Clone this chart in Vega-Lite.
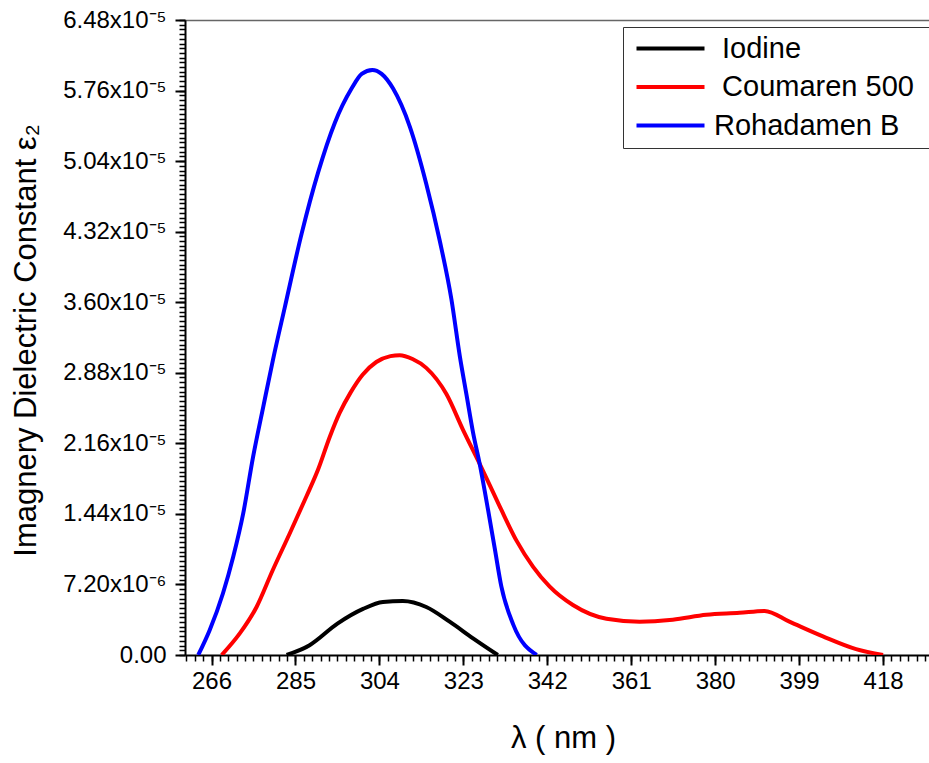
{
  "$schema": "https://vega.github.io/schema/vega-lite/v6.json",
  "autosize": {"type": "none"},
  "padding": {"left": 185, "top": 20, "right": 0, "bottom": 108},
  "width": 744,
  "height": 635,
  "background": "white",
  "config": {
    "view": {"stroke": null},
    "font": "Liberation Sans",
    "axis": {"grid": false, "labelColor": "black", "titleColor": "black", "domainColor": "black", "tickColor": "black", "labelFont": "Liberation Sans", "titleFont": "Liberation Sans", "titleFontWeight": "normal"}
  },
  "data": {"values": [
    {"s": "Iodine", "x": 283.0, "y": 0},
    {"s": "Iodine", "x": 288.2, "y": 1.0e-6},
    {"s": "Iodine", "x": 294.5, "y": 3.2e-6},
    {"s": "Iodine", "x": 300.3, "y": 4.7e-6},
    {"s": "Iodine", "x": 304.8, "y": 5.4e-6},
    {"s": "Iodine", "x": 309.3, "y": 5.5e-6},
    {"s": "Iodine", "x": 314.6, "y": 4.9e-6},
    {"s": "Iodine", "x": 319.9, "y": 3.4e-6},
    {"s": "Iodine", "x": 325.2, "y": 1.7e-6},
    {"s": "Iodine", "x": 330.8, "y": 0},
    {"s": "Coumaren 500", "x": 268.3, "y": 0},
    {"s": "Coumaren 500", "x": 272.4, "y": 2.2e-6},
    {"s": "Coumaren 500", "x": 276.2, "y": 4.9e-6},
    {"s": "Coumaren 500", "x": 279.9, "y": 8.7e-6},
    {"s": "Coumaren 500", "x": 283.7, "y": 1.24e-5},
    {"s": "Coumaren 500", "x": 287.5, "y": 1.62e-5},
    {"s": "Coumaren 500", "x": 290.1, "y": 1.89e-5},
    {"s": "Coumaren 500", "x": 292.8, "y": 2.23e-5},
    {"s": "Coumaren 500", "x": 295.0, "y": 2.47e-5},
    {"s": "Coumaren 500", "x": 297.5, "y": 2.68e-5},
    {"s": "Coumaren 500", "x": 300.2, "y": 2.86e-5},
    {"s": "Coumaren 500", "x": 303.3, "y": 2.99e-5},
    {"s": "Coumaren 500", "x": 306.5, "y": 3.05e-5},
    {"s": "Coumaren 500", "x": 308.6, "y": 3.06e-5},
    {"s": "Coumaren 500", "x": 311.5, "y": 3.02e-5},
    {"s": "Coumaren 500", "x": 314.6, "y": 2.93e-5},
    {"s": "Coumaren 500", "x": 319.2, "y": 2.66e-5},
    {"s": "Coumaren 500", "x": 322.9, "y": 2.30e-5},
    {"s": "Coumaren 500", "x": 326.7, "y": 1.95e-5},
    {"s": "Coumaren 500", "x": 331.2, "y": 1.52e-5},
    {"s": "Coumaren 500", "x": 335.0, "y": 1.17e-5},
    {"s": "Coumaren 500", "x": 338.8, "y": 9.0e-6},
    {"s": "Coumaren 500", "x": 342.5, "y": 7.0e-6},
    {"s": "Coumaren 500", "x": 347.8, "y": 5.1e-6},
    {"s": "Coumaren 500", "x": 355.4, "y": 3.7e-6},
    {"s": "Coumaren 500", "x": 362.9, "y": 3.4e-6},
    {"s": "Coumaren 500", "x": 370.4, "y": 3.6e-6},
    {"s": "Coumaren 500", "x": 378.0, "y": 4.1e-6},
    {"s": "Coumaren 500", "x": 385.5, "y": 4.3e-6},
    {"s": "Coumaren 500", "x": 391.2, "y": 4.5e-6},
    {"s": "Coumaren 500", "x": 396.8, "y": 3.4e-6},
    {"s": "Coumaren 500", "x": 404.4, "y": 1.9e-6},
    {"s": "Coumaren 500", "x": 411.9, "y": 6.0e-7},
    {"s": "Coumaren 500", "x": 418.0, "y": 0},
    {"s": "Rohadamen B", "x": 263.0, "y": 0},
    {"s": "Rohadamen B", "x": 265.6, "y": 2.55e-6},
    {"s": "Rohadamen B", "x": 268.6, "y": 6.3e-6},
    {"s": "Rohadamen B", "x": 270.9, "y": 1.0e-5},
    {"s": "Rohadamen B", "x": 273.2, "y": 1.45e-5},
    {"s": "Rohadamen B", "x": 275.4, "y": 2.02e-5},
    {"s": "Rohadamen B", "x": 277.7, "y": 2.53e-5},
    {"s": "Rohadamen B", "x": 279.9, "y": 3.01e-5},
    {"s": "Rohadamen B", "x": 282.6, "y": 3.55e-5},
    {"s": "Rohadamen B", "x": 286.4, "y": 4.30e-5},
    {"s": "Rohadamen B", "x": 290.1, "y": 4.92e-5},
    {"s": "Rohadamen B", "x": 293.9, "y": 5.43e-5},
    {"s": "Rohadamen B", "x": 297.7, "y": 5.78e-5},
    {"s": "Rohadamen B", "x": 300.0, "y": 5.93e-5},
    {"s": "Rohadamen B", "x": 302.4, "y": 5.97e-5},
    {"s": "Rohadamen B", "x": 304.5, "y": 5.93e-5},
    {"s": "Rohadamen B", "x": 307.1, "y": 5.78e-5},
    {"s": "Rohadamen B", "x": 310.9, "y": 5.39e-5},
    {"s": "Rohadamen B", "x": 314.6, "y": 4.81e-5},
    {"s": "Rohadamen B", "x": 317.7, "y": 4.22e-5},
    {"s": "Rohadamen B", "x": 320.3, "y": 3.63e-5},
    {"s": "Rohadamen B", "x": 322.2, "y": 3.05e-5},
    {"s": "Rohadamen B", "x": 323.7, "y": 2.66e-5},
    {"s": "Rohadamen B", "x": 325.2, "y": 2.27e-5},
    {"s": "Rohadamen B", "x": 326.7, "y": 1.95e-5},
    {"s": "Rohadamen B", "x": 328.6, "y": 1.48e-5},
    {"s": "Rohadamen B", "x": 330.1, "y": 1.09e-5},
    {"s": "Rohadamen B", "x": 331.6, "y": 7.0e-6},
    {"s": "Rohadamen B", "x": 334.3, "y": 3.1e-6},
    {"s": "Rohadamen B", "x": 339.6, "y": 0}
  ]},
  "layer": [
    {
      "mark": {"type": "line", "strokeWidth": 4, "interpolate": "monotone", "clip": true},
      "encoding": {
        "x": {"field": "x", "type": "quantitative",
          "scale": {"domain": [260, 428.4], "nice": false, "zero": false},
          "axis": {"orient": "bottom", "values": [266, 285, 304, 323, 342, 361, 380, 399, 418],
            "title": "λ ( nm )", "titleFontSize": 31, "titleX": 378, "titleY": 92, "titleBaseline": "alphabetic",
            "labelFontSize": 24, "labelPadding": 4, "labelFlush": false, "labelOverlap": false,
            "tickSize": 10, "tickWidth": 2, "domainWidth": 2}},
        "y": {"field": "y", "type": "quantitative",
          "scale": {"domain": [0, 6.48e-5], "nice": false},
          "axis": {"orient": "left", "values": [0, 7.2e-6, 1.44e-5, 2.16e-5, 2.88e-5, 3.6e-5, 4.32e-5, 5.04e-5, 5.76e-5, 6.48e-5],
            "labelExpr": "datum.value == 0 ? '0.00' : (datum.value < 1e-5 ? format(datum.value*1e6, '.2f') + 'x10⁻⁶' : format(datum.value*1e5, '.2f') + 'x10⁻⁵')",
            "title": "Imagnery Dielectric Constant ε₂", "titleFontSize": 31, "titleX": -150, "titleY": 320, "titleBaseline": "alphabetic",
            "labelFontSize": 24, "labelPadding": 9, "labelFlush": false, "labelOverlap": false,
            "tickSize": 10, "tickWidth": 2, "domainWidth": 2}},
        "color": {"field": "s", "type": "nominal",
          "scale": {"domain": ["Iodine", "Coumaren 500", "Rohadamen B"], "range": ["#000000", "#FF0000", "#0000FF"]},
          "legend": {"orient": "none", "legendX": 438, "legendY": 7, "title": null,
            "symbolType": "M-0.8,0H6.0", "symbolSize": 400, "symbolStrokeWidth": 4,
            "labelFontSize": 29, "labelFont": "Liberation Sans", "labelColor": "black", "labelLimit": 600,
            "labelExpr": "(datum.label == 'Rohadamen B' ? '' : '\u200b\u00a0') + datum.label + '\u00a0\u2009\u200b'",
            "labelOffset": 55, "padding": 7, "strokeColor": "#333333", "fillColor": "white", "rowPadding": 8.5}}
      }
    },
    {
      "mark": {"type": "line", "opacity": 0},
      "encoding": {
        "x": {"field": "x", "type": "quantitative",
          "axis": {"orient": "bottom", "title": null, "labels": false, "domain": false, "tickSize": 6, "tickWidth": 1.5,
            "values": [260.3, 262.2, 264.1, 266.0, 267.9, 269.8, 271.7, 273.6, 275.5, 277.4, 279.3, 281.2, 283.1, 285.0, 286.9, 288.8, 290.7, 292.6, 294.5, 296.4, 298.3, 300.2, 302.1, 304.0, 305.9, 307.8, 309.7, 311.6, 313.5, 315.4, 317.3, 319.2, 321.1, 323.0, 324.9, 326.8, 328.7, 330.6, 332.5, 334.4, 336.3, 338.2, 340.1, 342.0, 343.9, 345.8, 347.7, 349.6, 351.5, 353.4, 355.3, 357.2, 359.1, 361.0, 362.9, 364.8, 366.7, 368.6, 370.5, 372.4, 374.3, 376.2, 378.1, 380.0, 381.9, 383.8, 385.7, 387.6, 389.5, 391.4, 393.3, 395.2, 397.1, 399.0, 400.9, 402.8, 404.7, 406.6, 408.5, 410.4, 412.3, 414.2, 416.1, 418.0, 419.9, 421.8, 423.7, 425.6, 427.5]}},
        "y": {"field": "y", "type": "quantitative",
          "axis": {"orient": "left", "title": null, "labels": false, "domain": false, "tickSize": 6, "tickWidth": 1.5,
            "values": [0, 4.8e-7, 9.6e-7, 14.4e-7, 19.2e-7, 24e-7, 28.8e-7, 33.6e-7, 38.4e-7, 43.2e-7, 48e-7, 52.8e-7, 57.6e-7, 62.4e-7, 67.2e-7, 72e-7, 76.8e-7, 81.6e-7, 86.4e-7, 91.2e-7, 96e-7, 100.8e-7, 105.6e-7, 110.4e-7, 115.2e-7, 120e-7, 124.8e-7, 129.6e-7, 134.4e-7, 139.2e-7, 144e-7, 148.8e-7, 153.6e-7, 158.4e-7, 163.2e-7, 168e-7, 172.8e-7, 177.6e-7, 182.4e-7, 187.2e-7, 192e-7, 196.8e-7, 201.6e-7, 206.4e-7, 211.2e-7, 216e-7, 220.8e-7, 225.6e-7, 230.4e-7, 235.2e-7, 240e-7, 244.8e-7, 249.6e-7, 254.4e-7, 259.2e-7, 264e-7, 268.8e-7, 273.6e-7, 278.4e-7, 283.2e-7, 288e-7, 292.8e-7, 297.6e-7, 302.4e-7, 307.2e-7, 312e-7, 316.8e-7, 321.6e-7, 326.4e-7, 331.2e-7, 336e-7, 340.8e-7, 345.6e-7, 350.4e-7, 355.2e-7, 360e-7, 364.8e-7, 369.6e-7, 374.4e-7, 379.2e-7, 384e-7, 388.8e-7, 393.6e-7, 398.4e-7, 403.2e-7, 408e-7, 412.8e-7, 417.6e-7, 422.4e-7, 427.2e-7, 432e-7, 436.8e-7, 441.6e-7, 446.4e-7, 451.2e-7, 456e-7, 460.8e-7, 465.6e-7, 470.4e-7, 475.2e-7, 480e-7, 484.8e-7, 489.6e-7, 494.4e-7, 499.2e-7, 504e-7, 508.8e-7, 513.6e-7, 518.4e-7, 523.2e-7, 528e-7, 532.8e-7, 537.6e-7, 542.4e-7, 547.2e-7, 552e-7, 556.8e-7, 561.6e-7, 566.4e-7, 571.2e-7, 576e-7, 580.8e-7, 585.6e-7, 590.4e-7, 595.2e-7, 600e-7, 604.8e-7, 609.6e-7, 614.4e-7, 619.2e-7, 624e-7, 628.8e-7, 633.6e-7, 638.4e-7, 643.2e-7, 648e-7]}}
      }
    },
    {
      "mark": {"type": "line", "opacity": 0},
      "encoding": {
        "x": {"field": "x", "type": "quantitative",
          "axis": {"orient": "top", "title": null, "labels": false, "ticks": false, "domain": true, "domainColor": "#666666", "domainWidth": 1.5}}
      }
    }
  ],
  "resolve": {"axis": {"x": "independent", "y": "independent"}}
}
